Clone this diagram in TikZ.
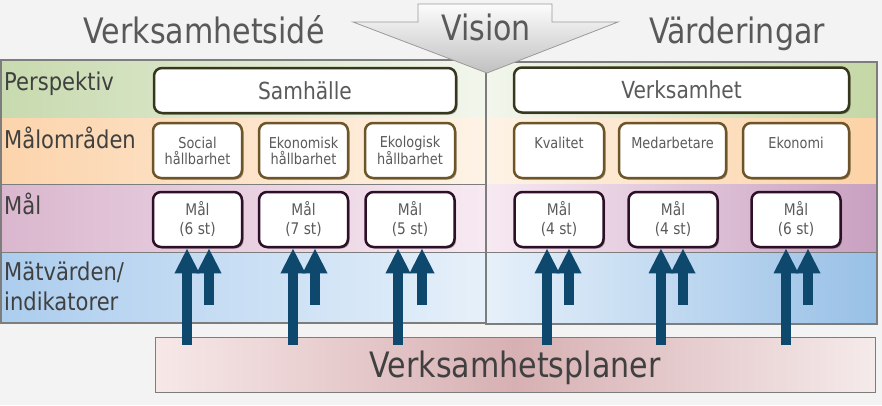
\documentclass[tikz,border=0pt]{standalone}
\usepackage{fontspec}
\setmainfont{DejaVu Sans}[FakeStretch=0.86]
\usetikzlibrary{arrows.meta,shadows}
\definecolor{bgc}{RGB}{243,243,243}
\definecolor{titlec}{RGB}{89,89,89}
\definecolor{labelc}{RGB}{64,64,64}
\definecolor{boxtc}{RGB}{90,90,90}
\definecolor{gL}{RGB}{200,218,175}
\definecolor{gC}{RGB}{242,246,236}
\definecolor{gR}{RGB}{196,215,165}
\definecolor{oL}{RGB}{252,212,172}
\definecolor{oC}{RGB}{253,243,230}
\definecolor{oR}{RGB}{252,210,165}
\definecolor{pL}{RGB}{218,183,206}
\definecolor{pC}{RGB}{247,233,242}
\definecolor{pR}{RGB}{200,160,192}
\definecolor{bL}{RGB}{172,205,238}
\definecolor{bC}{RGB}{230,240,250}
\definecolor{bR}{RGB}{152,192,230}
\definecolor{planL}{RGB}{247,232,232}
\definecolor{planM}{RGB}{215,176,179}
\definecolor{planR}{RGB}{245,234,234}
\definecolor{pboxc}{RGB}{55,55,30}
\definecolor{oboxc}{RGB}{110,85,40}
\definecolor{mboxc}{RGB}{45,15,40}
\definecolor{arrowc}{RGB}{14,72,108}
\definecolor{visT}{RGB}{252,252,252}
\definecolor{visB}{RGB}{192,192,192}
\definecolor{panelc}{RGB}{125,125,125}
\newcommand\fs[2]{\fontsize{#1pt}{#2pt}\selectfont}
\begin{document}
\begin{tikzpicture}[x=1pt,y=-1pt,
  title/.style={font=\fs{35}{42}, text=titlec, inner sep=0pt, anchor=base},
  rowlabel/.style={font=\fs{24.5}{30}, text=labelc, inner sep=0pt, anchor=base west},
  basebox/.style={rectangle, rounded corners=8pt, fill=white, line width=2.5pt,
     inner sep=0pt, align=center, text=boxtc,
     drop shadow={shadow xshift=1.5pt, shadow yshift=-1.5pt, opacity=.35, fill=black}},
  pbox/.style={basebox, draw=pboxc, font=\fs{23.5}{28}, minimum height=45pt},
  obox/.style={basebox, draw=oboxc, font=\fs{15}{16}, minimum height=55pt},
  mbox/.style={basebox, draw=mboxc, font=\fs{16}{19}, minimum height=55pt, minimum width=89pt},
  panelline/.style={draw=panelc, line width=1.2pt},
  bandline/.style={draw=panelc, line width=1pt},
  arr/.style={draw=arrowc, line width=10pt, -{Triangle[width=23pt,length=25pt]}}
]
\useasboundingbox[fill=bgc] (0,0) rectangle (882,405);

% bands, left panel
\shade[left color=gL, right color=gC] (1,60) rectangle (486,118);
\shade[left color=oL, right color=oC] (1,118) rectangle (486,184);
\shade[left color=pL, right color=pC] (1,184) rectangle (486,252);
\shade[left color=bL, right color=bC] (1,252) rectangle (486,323);
% bands, right panel
\shade[left color=gC, right color=gR] (486,62) rectangle (877,118);
\shade[left color=oC, right color=oR] (486,118) rectangle (877,184);
\shade[left color=pC, right color=pR] (486,184) rectangle (877,252);
\shade[left color=bC, right color=bR] (486,252) rectangle (877,324);
\draw[bandline] (1,184) -- (486,184);
\draw[bandline] (1,252) -- (877,252);
\draw[panelline] (1,60) rectangle (486,323);
\draw[panelline] (486,62) rectangle (877,324);

% titles
\node[title] (idea) at (204,43) {Verksamhetsidé};
\node[title] (values) at (737,43) {Värderingar};
\shade[top color=visT, bottom color=visB, draw=visB!80!black, line width=0.8pt]
  (418,4) -- (552,4) -- (552,22) -- (618,22) -- (487,73) -- (353,22) -- (418,22) -- cycle;
\node[title] (vision) at (486,40) {Vision};

% row labels
\node[rowlabel] (lp) at (4,90) {Perspektiv};
\node[rowlabel] (lo) at (4,148) {Målområden};
\node[rowlabel] (lm) at (4,214) {Mål};
\node[rowlabel] (li1) at (4,280) {Mätvärden/};
\node[rowlabel] (li2) at (4,310) {indikatorer};

% perspective boxes
\node[pbox, minimum width=302pt] (samh) at (305,90.5) {Samhälle};
\node[pbox, minimum width=335pt] (verk) at (681.5,90) {Verksamhet};

% goal-area boxes
\node[obox, minimum width=89pt] (o1) at (197.5,150.5) {Social\\hållbarhet};
\node[obox, minimum width=89pt] (o2) at (303.5,150.5) {Ekonomisk\\hållbarhet};
\node[obox, minimum width=90pt] (o3) at (410,150.5) {Ekologisk\\hållbarhet};
\node[obox, minimum width=90pt] (o4) at (559,150.5) {Kvalitet\\\mbox{}};
\node[obox, minimum width=107pt] (o5) at (672.5,150.5) {Medarbetare\\\mbox{}};
\node[obox, minimum width=106pt] (o6) at (796,150.5) {Ekonomi\\\mbox{}};

% goal boxes
\node[mbox] (m1) at (197.5,219.5) {Mål\\(6 st)};
\node[mbox] (m2) at (303.5,219.5) {Mål\\(7 st)};
\node[mbox] (m3) at (410,219.5) {Mål\\(5 st)};
\node[mbox] (m4) at (559,219.5) {Mål\\(4 st)};
\node[mbox] (m5) at (673,219.5) {Mål\\(4 st)};
\node[mbox] (m6) at (796,219.5) {Mål\\(6 st)};

% plans box
\node[rectangle, minimum width=720pt, minimum height=55pt, inner sep=0pt,
  left color=planL, right color=planR, middle color=planM,
  draw=panelc, line width=1pt, font=\fs{35}{42}, text=labelc, text depth=0pt]
  (plan) at (515,364.5) {Verksamhetsplaner};

% arrow start points
\coordinate (s1) at (187,345);  \coordinate (t1) at (209,305);
\coordinate (s2) at (293,345);  \coordinate (t2) at (315,305);
\coordinate (s3) at (398,345);  \coordinate (t3) at (422,305);
\coordinate (s4) at (547,345);  \coordinate (t4) at (569,305);
\coordinate (s5) at (661,345);  \coordinate (t5) at (683,305);
\coordinate (s6) at (786,345);  \coordinate (t6) at (808,305);
\foreach \i in {1,...,6}{
  \draw[arr] (s\i) -- (s\i |- m\i.south);
  \draw[arr] (t\i) -- (t\i |- m\i.south);
}
\end{tikzpicture}
\end{document}
